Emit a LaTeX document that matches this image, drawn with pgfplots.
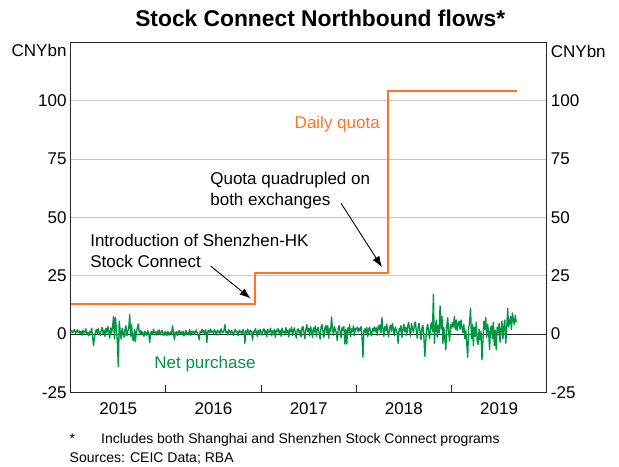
\documentclass[border=0pt]{standalone}
\usepackage{fontspec}
\setmainfont{Liberation Sans}
\usepackage{pgfplots}
\usepackage{pgfplotstable}
\pgfplotsset{compat=1.18}
\usetikzlibrary{arrows.meta}
\definecolor{rbaorange}{RGB}{255,115,35}
\definecolor{rbagreen}{RGB}{0,150,70}
\definecolor{gridgray}{RGB}{200,200,200}
\newcommand{\lblfont}{\fontsize{17}{21}\selectfont}

\pgfplotstableread[header=false, row sep=\\]{
0.8\\ 1.5\\ 0.5\\ 1.2\\ 2.0\\ 0.3\\ 1.0\\ 1.8\\ 0.6\\ 1.3\\
0.2\\ 1.1\\ -0.5\\ 1.6\\ 0.4\\ 0.9\\ 2.2\\ 0.1\\ 0.7\\ -0.8\\
1.0\\ 0.5\\ 2.5\\ -1.2\\ -5.0\\ -1.5\\ 0.8\\ 1.9\\ 0.2\\ 2.3\\
0.5\\ -0.6\\ 1.4\\ 2.8\\ 0.3\\ 1.7\\ -1.0\\ 2.4\\ 0.6\\ 3.2\\
1.0\\ -1.8\\ 2.6\\ 0.4\\ 3.0\\ 7.4\\ -2.0\\ 7.0\\ 2.0\\ -3.0\\
-14.0\\ 5.5\\ 1.0\\ -2.2\\ 2.4\\ 0.8\\ -1.5\\ 1.8\\ 3.5\\ -0.8\\
1.2\\ 2.5\\ 8.3\\ -1.0\\ 4.0\\ -2.0\\ -3.0\\ 2.0\\ -3.2\\ 1.0\\
2.5\\ 4.3\\ 0.6\\ 1.5\\ -0.4\\ 1.0\\ 0.4\\ -1.0\\ 1.2\\ 0.5\\
-0.6\\ 1.4\\ 0.2\\ -3.6\\ 0.5\\ 1.1\\ -0.3\\ 2.0\\ 0.4\\ 0.9\\
-0.5\\ 1.3\\ 0.2\\ 1.8\\ -0.4\\ 0.7\\ 1.5\\ 0.1\\ -0.6\\ 1.0\\
0.5\\ -0.8\\ 1.2\\ 0.3\\ -0.5\\ 1.0\\ 0.2\\ 3.6\\ 0.4\\ -2.5\\
0.6\\ 1.0\\ -0.7\\ 0.8\\ 1.5\\ -0.3\\ 0.9\\ 0.1\\ 1.2\\ -0.9\\
0.5\\ 1.6\\ -0.4\\ 0.7\\ 0.2\\ 1.9\\ -0.6\\ 1.0\\ 0.4\\ 1.3\\
-0.2\\ 0.8\\ 1.7\\ 0.3\\ -0.8\\ -2.5\\ 1.1\\ 0.5\\ 2.0\\ 0.6\\
1.4\\ 0.2\\ 1.8\\ -3.6\\ 1.0\\ 1.5\\ 0.4\\ 2.1\\ 0.8\\ 1.2\\
0.3\\ 1.9\\ 0.9\\ -0.5\\ 1.6\\ 0.7\\ 1.3\\ 0.2\\ 2.2\\ 1.0\\
0.5\\ 1.4\\ 4.0\\ 0.6\\ 1.1\\ -0.4\\ 1.8\\ 0.9\\ 0.3\\ 1.5\\
0.7\\ -0.6\\ 1.2\\ 2.0\\ 0.4\\ 1.0\\ -0.8\\ 1.6\\ 0.6\\ 1.3\\
0.2\\ 1.9\\ 0.8\\ -4.0\\ 1.4\\ 0.5\\ 2.1\\ -0.3\\ 1.0\\ 1.7\\
0.6\\ -2.7\\ 1.3\\ 0.4\\ 2.4\\ 0.9\\ -1.0\\ 1.5\\ 0.3\\ 2.0\\
0.8\\ -0.5\\ 1.6\\ 2.2\\ 0.3\\ 1.4\\ -1.2\\ 2.0\\ 0.6\\ 1.1\\
2.5\\ -0.8\\ 1.3\\ 0.4\\ 2.0\\ -1.5\\ 1.7\\ 0.9\\ 2.3\\ 0.2\\
1.5\\ -1.0\\ 2.4\\ 0.7\\ 1.2\\ -0.4\\ 2.8\\ 0.5\\ 1.6\\ -1.3\\
2.1\\ 0.9\\ 3.0\\ -0.6\\ 1.4\\ 2.6\\ 0.3\\ -1.8\\ 1.9\\ 2.2\\
0.4\\ 1.5\\ -1.2\\ 2.7\\ 3.2\\ 0.6\\ -2.0\\ 1.8\\ 4.0\\ 1.0\\
2.4\\ -0.9\\ 3.1\\ 1.3\\ -1.5\\ 2.6\\ 0.8\\ 3.4\\ -1.0\\ 1.9\\
2.8\\ 0.5\\ -2.2\\ 3.0\\ 4.0\\ 1.2\\ -1.4\\ 2.5\\ 3.6\\ 0.4\\
3.5\\ -1.8\\ 2.2\\ 1.0\\ 7.3\\ 2.0\\ -0.5\\ 3.2\\ 1.5\\ 0.6\\
-2.8\\ 2.4\\ 3.6\\ 0.9\\ -1.6\\ 2.8\\ 1.4\\ 3.2\\ -4.3\\ 1.8\\
-4.3\\ 2.6\\ 0.5\\ 4.0\\ -1.2\\ 2.2\\ 1.0\\ 3.5\\ -0.8\\ 2.4\\
1.8\\ 3.0\\ 0.9\\ 2.5\\ 1.4\\ 3.2\\ -1.0\\ -10.0\\ 1.5\\ 2.2\\
0.4\\ 2.8\\ -1.2\\ 1.9\\ 3.0\\ 0.6\\ -0.8\\ 2.4\\ 1.2\\ 3.1\\
0.9\\ 2.6\\ -0.6\\ 3.4\\ 1.8\\ 4.0\\ 0.5\\ 7.0\\ 2.2\\ -1.0\\
3.2\\ 1.4\\ 4.2\\ 0.8\\ -1.2\\ 2.9\\ 3.8\\ 1.0\\ 4.5\\ 2.0\\
-0.8\\ 3.0\\ 1.6\\ 0.4\\ -4.0\\ 2.4\\ 1.2\\ 3.6\\ -1.5\\ 2.0\\
4.2\\ 1.0\\ 2.8\\ -0.6\\ 3.4\\ 5.0\\ 1.6\\ -1.0\\ 4.4\\ 2.2\\
0.8\\ 3.8\\ 5.2\\ 1.4\\ -1.8\\ 3.0\\ 4.6\\ 0.6\\ -2.4\\ 2.6\\
3.6\\ -1.2\\ -9.6\\ -3.0\\ 2.4\\ 4.2\\ 0.8\\ -2.0\\ 3.4\\ 5.0\\
1.0\\ 17.0\\ -4.0\\ 2.6\\ 6.0\\ -1.4\\ 3.8\\ 0.4\\ 12.0\\ 2.0\\
7.6\\ -4.0\\ 2.8\\ -2.0\\ -6.7\\ 3.0\\ 7.0\\ 1.0\\ -3.0\\ 4.0\\
2.5\\ 5.0\\ 3.0\\ 7.5\\ 2.0\\ 6.0\\ 1.5\\ 4.5\\ 5.5\\ 2.0\\
6.0\\ 3.0\\ 0.5\\ 4.0\\ -2.0\\ 1.5\\ -4.0\\ -10.0\\ 2.5\\ 5.0\\
11.0\\ -2.0\\ 4.0\\ -5.0\\ 3.0\\ -1.0\\ 5.0\\ -3.0\\ -4.5\\ 2.0\\
-2.5\\ 1.0\\ -11.0\\ -3.0\\ 5.5\\ 2.0\\ 7.0\\ -1.5\\ 4.0\\ 1.0\\
-6.7\\ 2.5\\ 3.5\\ -2.0\\ 5.0\\ -5.0\\ 1.5\\ -6.7\\ 3.0\\ 0.5\\
4.5\\ -3.5\\ 2.0\\ 5.5\\ -2.0\\ 3.0\\ 6.0\\ -4.0\\ 2.5\\ 11.0\\
3.0\\ 5.0\\ 7.6\\ 2.0\\ 9.0\\ 6.0\\ 4.0\\ 8.0\\ 5.0\\
}\netdata

\begin{document}
\begin{tikzpicture}[x=1pt,y=1pt]
\path[use as bounding box] (-70.7,-74) rectangle (548.3,392.3);
\begin{axis}[
  at={(0,0)}, anchor=south west,
  width=476pt, height=350pt, scale only axis,
  xmin=2015, xmax=2020, ymin=-25, ymax=125,
  axis line style={black!85, line width=0.8pt},
  xtick={2015.5,2016.5,2017.5,2018.5,2019.5},
  xticklabels={2015,2016,2017,2018,2019},
  minor xtick={2016,2017,2018,2019},
  major tick length=0pt, minor tick length=7pt,
  tick align=inside, xtick pos=bottom,
  tick style={black!85, line width=0.8pt},
  ytick={-25,0,25,50,75,100},
  yticklabels={-25,0,25,50,75,100},
  ymajorgrids, grid style={gridgray, line width=0.8pt},
  ytick pos=left,
  ticklabel style={font=\lblfont},
  yticklabel style={inner sep=0pt, xshift=-4pt},
  xticklabel style={inner sep=0pt, yshift=-10pt},
  clip=false,
]
\draw[black!85, line width=0.9pt] (axis cs:2015,0) -- (axis cs:2020,0);
\addplot[color=rbaorange, line width=1.8pt, line join=miter] coordinates {(2015,13) (2016.935,13) (2016.935,26) (2018.333,26) (2018.333,104) (2019.69,104)};
\addplot[color=rbagreen, line width=1.35pt, line join=round] table[x expr=2015+\coordindex/100, y index=0] {\netdata};
\node[text=rbaorange, font=\lblfont] at (axis cs:2017.8,90) {Daily quota};
\node[text=rbagreen, font=\lblfont] at (axis cs:2016.41,-12.9) {Net purchase};
\node[anchor=west, align=left, font=\lblfont, inner sep=0pt] at (axis cs:2016.465,61.3) {Quota quadrupled on\\both exchanges};
\draw[line width=0.9pt, -{Latex[length=11pt,width=8pt]}] (axis cs:2017.84,56) -- (axis cs:2018.27,28.6);
\node[anchor=west, align=left, font=\lblfont, inner sep=0pt] at (axis cs:2015.204,35.6) {Introduction of Shenzhen-HK\\Stock Connect};
\draw[line width=0.9pt, -{Latex[length=11pt,width=8pt]}] (axis cs:2016.47,29.1) -- (axis cs:2016.89,15.2);
\end{axis}
\begin{axis}[
  at={(0,0)}, anchor=south west,
  width=476pt, height=350pt, scale only axis,
  xmin=2015, xmax=2020, ymin=-25, ymax=125,
  axis x line=none, axis y line*=right,
  axis line style={black!85, line width=0.8pt},
  ytick={-25,0,25,50,75,100},
  yticklabels={-25,0,25,50,75,100},
  major tick length=0pt,
  ticklabel style={font=\lblfont},
  yticklabel style={inner sep=0pt, xshift=4pt},
]
\end{axis}
\node[anchor=east, inner sep=0pt, font=\lblfont] at (-4,342) {CNYbn};
\node[anchor=west, inner sep=0pt, font=\lblfont] at (480,341.3) {CNYbn};
\node[font=\fontsize{22.8}{26}\selectfont\bfseries] at (249.5,374) {Stock Connect Northbound flows*};
\node[anchor=base west, inner sep=0pt, font=\fontsize{14}{17}\selectfont] at (-1.2,-51) {*};
\node[anchor=base west, inner sep=0pt, font=\fontsize{14}{17}\selectfont] at (30.3,-51) {Includes both Shanghai and Shenzhen Stock Connect programs};
\node[anchor=base west, inner sep=0pt, font=\fontsize{14}{17}\selectfont] at (-1.2,-70.5) {Sources: CEIC Data; RBA};
\end{tikzpicture}
\end{document}
